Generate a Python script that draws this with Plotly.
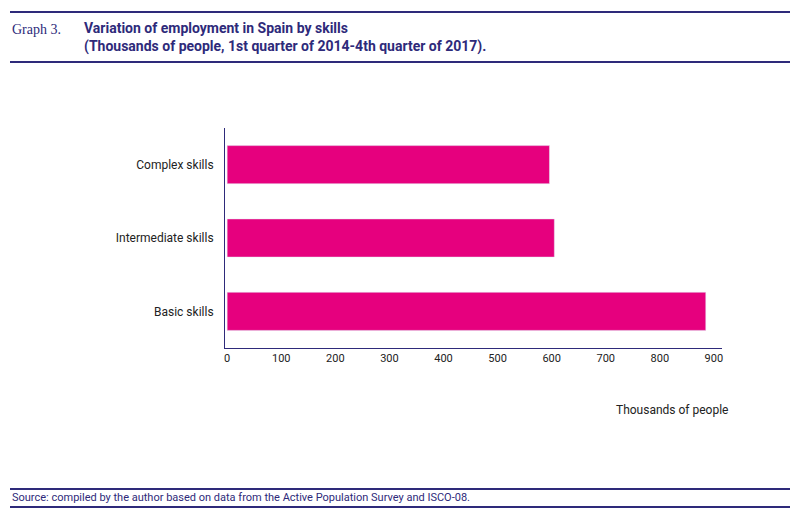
import plotly.graph_objs as go

categories = ['Basic skills', 'Intermediate skills', 'Complex skills']
values = [885, 605, 596]
tick_vals = [0, 100, 200, 300, 400, 500, 600, 700, 800, 900]

navy = '#2e2a7a'
pink = '#e6007e'

# page has ~8px offset, so figure coords = reference pixels - 8
OFF = 8
L, T, W, H = 225 - OFF, 128 - OFF, 497, 220

fig = go.Figure(go.Bar(
	x=values, y=categories, orientation='h',
	marker=dict(color=pink), width=0.52,
))

fig.update_layout(
	width=800, height=520,
	paper_bgcolor='white', plot_bgcolor='white',
	margin=dict(l=L, r=800 - L - W, t=T, b=520 - T - H),
	showlegend=False,
	font=dict(family='Roboto', size=12, color='#222222'),
	xaxis=dict(range=[-4, 915], tickvals=tick_vals, showgrid=False, zeroline=False,
		showline=True, linecolor=navy, linewidth=1, ticks='', ticklen=0,
		tickfont=dict(size=11)),
	yaxis=dict(showline=True, linecolor=navy, linewidth=1, showgrid=False,
		ticks='', ticklabelstandoff=8, tickfont=dict(size=12)),
)

def px_x(x):
	return (x - OFF - L) / W

def px_y(y):
	return (T + H - (y - OFF)) / H

for yp in [12, 62, 489, 507]:
	fig.add_shape(type='line', xref='paper', yref='paper',
		x0=px_x(10), x1=px_x(790), y0=px_y(yp), y1=px_y(yp),
		line=dict(color=navy, width=2))

def text(x, y, s, **kw):
	fig.add_annotation(xref='paper', yref='paper', x=px_x(x), y=px_y(y),
		text=s, showarrow=False, xanchor='left', yanchor='middle', align='left', **kw)

text(10, 30, 'Graph 3.', font=dict(family='Liberation Serif', size=14, color=navy))
text(82, 37, '<b>Variation of employment in Spain by skills<br>(Thousands of people, 1st quarter of 2014-4th quarter of 2017).</b>',
	font=dict(family='Roboto', size=14, color=navy))
text(614, 410, 'Thousands of people', font=dict(family='Roboto', size=12, color='#222222'))
text(10, 497, 'Source: compiled by the author based on data from the Active Population Survey and ISCO-08.',
	font=dict(family='Roboto', size=11, color=navy))

fig.write_html("out.html")
